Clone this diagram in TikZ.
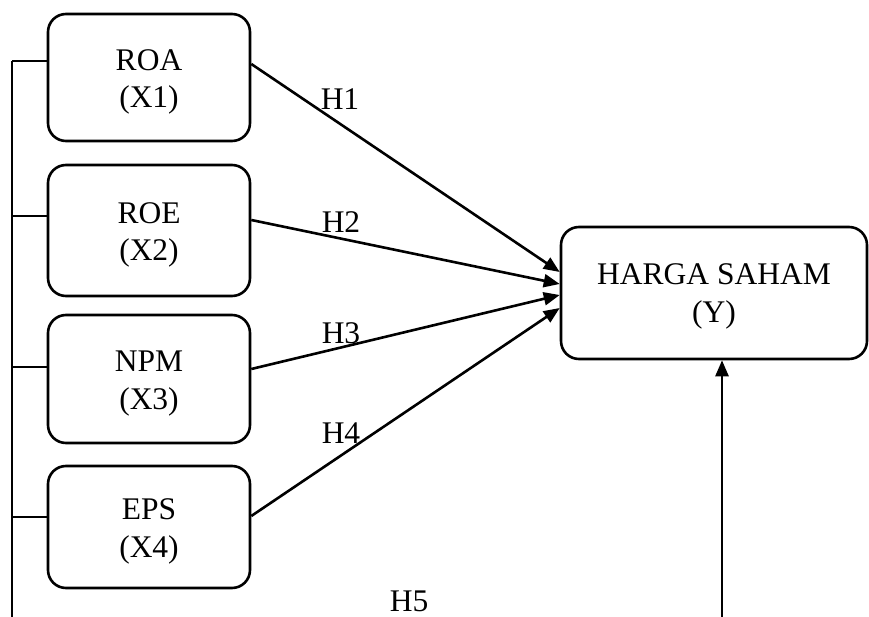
\documentclass[tikz,border=0pt]{standalone}
\usepackage{fontspec}
\setmainfont{Liberation Serif}
\usetikzlibrary{arrows.meta}
\begin{document}
\begin{tikzpicture}[x=1pt,y=-1pt,
  box/.style={draw,line width=2.6pt,rounded corners=18pt,inner sep=0pt,align=center,
    font=\fontsize{31.5}{37.5}\selectfont},
  conn/.style={line width=2.6pt},
  arr/.style={line width=2.6pt,-{Triangle[length=16pt,width=13pt]}},
  hlab/.style={inner sep=0pt,font=\fontsize{31.5}{37.5}\selectfont}]
\useasboundingbox (0,0) rectangle (869,617);
\node[box,minimum width=202pt,minimum height=127pt] (roa) at (149,77.5) {\rule{0pt}{30pt}ROA\\(X1)};
\node[box,minimum width=202pt,minimum height=131pt] (roe) at (149,230.5) {\rule{0pt}{30pt}ROE\\(X2)};
\node[box,minimum width=202pt,minimum height=128pt] (npm) at (149,379) {\rule{0pt}{30pt}NPM\\(X3)};
\node[box,minimum width=202pt,minimum height=122pt] (eps) at (149,527) {\rule{0pt}{30pt}EPS\\(X4)};
\node[box,minimum width=306pt,minimum height=132pt] (y) at (714,293) {\rule{0pt}{28pt}HARGA SAHAM\\(Y)};
% spine
\coordinate (s1) at (12,61);
\coordinate (s2) at (12,216);
\coordinate (s3) at (12,367);
\coordinate (s4) at (12,517);
\coordinate (sb) at (12,617);
\draw[conn] (s1) -- (sb);
\draw[conn] (s1) -- (s1 -| roa.west);
\draw[conn] (s2) -- (s2 -| roe.west);
\draw[conn] (s3) -- (s3 -| npm.west);
\draw[conn] (s4) -- (s4 -| eps.west);
% arrows
\draw[arr] ([yshift=13.5pt]roa.east) -- ([yshift=21pt]y.west);
\draw[arr] ([yshift=10.5pt]roe.east) -- ([yshift=9pt]y.west);
\draw[arr] ([yshift=10pt]npm.east) -- ([yshift=-2pt]y.west);
\draw[arr] ([yshift=11pt]eps.east) -- ([yshift=-15pt]y.west);
\coordinate (b) at (722,617);
\draw[arr] (b) -- (b |- y.south);
% labels
\node[hlab] (h1) at (340,99) {H1};
\node[hlab] (h2) at (341,222) {H2};
\node[hlab] (h3) at (341,333) {H3};
\node[hlab] (h4) at (341,433) {H4};
\node[hlab] (h5) at (409,601) {H5};
\end{tikzpicture}
\end{document}
